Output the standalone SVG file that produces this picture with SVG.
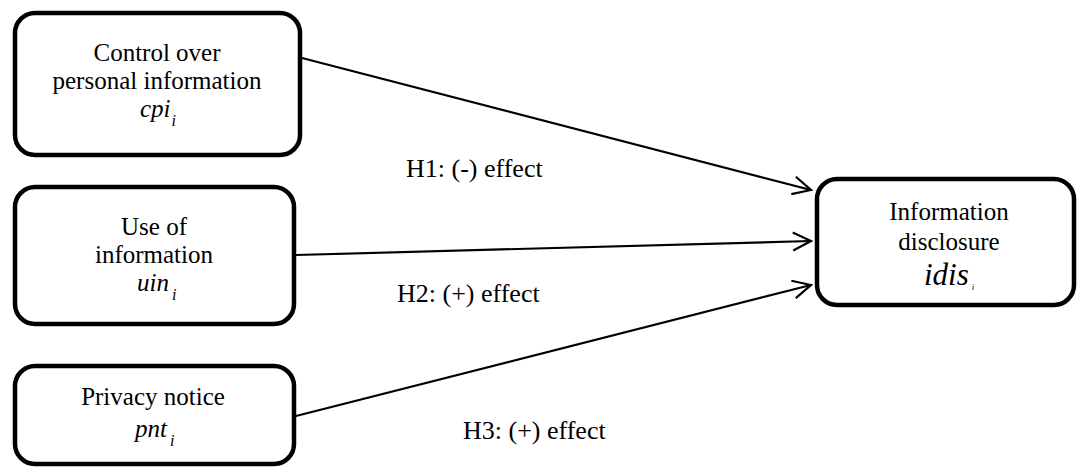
<svg xmlns="http://www.w3.org/2000/svg" width="1077" height="468" viewBox="0 0 1077 468">
<style>
.box{fill:#fff;stroke:#000;stroke-width:4.5}
.t{font-family:"Liberation Serif","Times New Roman",serif;font-size:25px;fill:#000;text-anchor:middle}
.v{font-family:"Liberation Serif","Times New Roman",serif;font-style:italic;fill:#000}
.lbl{font-family:"Liberation Serif","Times New Roman",serif;font-size:26px;fill:#000}
.edge{stroke:#000;stroke-width:2.2;fill:none;marker-end:url(#arr)}
</style>
<defs>
<marker id="arr" markerWidth="24" markerHeight="24" refX="20" refY="10" orient="auto" markerUnits="userSpaceOnUse">
<path d="M2,1 L20,10 L2,19" fill="none" stroke="#000" stroke-width="2.2"/>
</marker>
</defs>
<rect width="1077" height="468" fill="#fff"/>
<g id="connectors">
<line class="edge" x1="302" y1="58" x2="811" y2="190"/>
<line class="edge" x1="296" y1="255" x2="811" y2="241"/>
<line class="edge" x1="296" y1="416" x2="811" y2="285"/>
<text class="lbl" x="406" y="177">H1: (-) effect</text>
<text class="lbl" x="397" y="302">H2: (+) effect</text>
<text class="lbl" x="463" y="439">H3: (+) effect</text>
</g>
<g id="cpi">
<rect class="box" x="15" y="13" width="285" height="142" rx="20"/>
<text class="t" x="157" y="61">Control over</text>
<text class="t" x="157" y="89">personal information</text>
<text class="v" x="140" y="117" font-size="25">cpi<tspan font-size="16" dx="1" dy="9">i</tspan></text>
</g>
<g id="uin">
<rect class="box" x="15" y="187" width="279" height="137" rx="20"/>
<text class="t" x="154" y="235">Use of</text>
<text class="t" x="154" y="263">information</text>
<text class="v" x="137" y="291" font-size="25">uin<tspan font-size="16" dx="3" dy="9">i</tspan></text>
</g>
<g id="pnt">
<rect class="box" x="15" y="366" width="279" height="98" rx="20"/>
<text class="t" x="153" y="405">Privacy notice</text>
<text class="v" x="135" y="437" font-size="25">pnt<tspan font-size="16" dx="3" dy="9">i</tspan></text>
</g>
<g id="idis">
<rect class="box" x="817" y="179" width="257" height="126" rx="20"/>
<text class="t" x="949" y="220">Information</text>
<text class="t" x="949" y="250">disclosure</text>
<text class="v" x="924" y="285" font-size="31">idis<tspan font-size="9" dx="3" dy="5">i</tspan></text>
</g>
</svg>
